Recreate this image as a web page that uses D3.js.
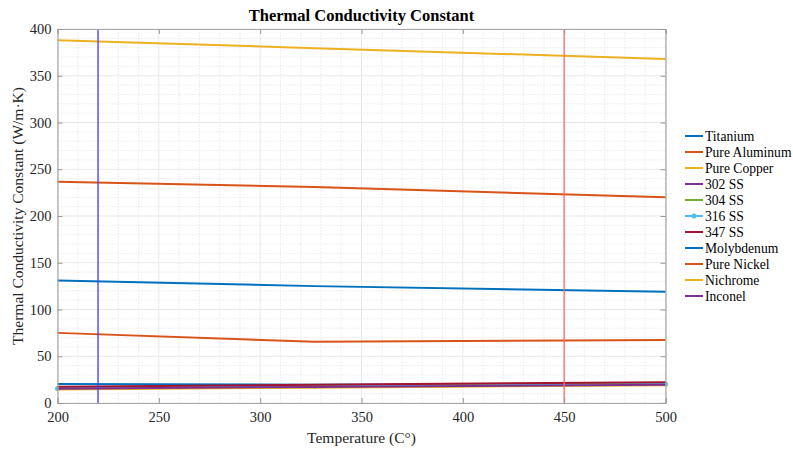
<!DOCTYPE html>
<html><head><meta charset="utf-8">
<script src="https://cdn.jsdelivr.net/npm/d3@7"></script>
<style>body{margin:0;background:#fff}svg{display:block}text{font-family:"Liberation Serif","Times New Roman",serif}</style>
</head><body><svg id="c" width="793" height="449"></svg>
<script>
const temps = [200, 326.85, 500];
const seriesNames = ["Titanium","Pure Aluminum","Pure Copper","302 SS","304 SS","316 SS","347 SS","Molybdenum","Pure Nickel","Nichrome","Inconel"];
const titanium = [20.2, 19.6, 20.6];
const pureAluminum = [236.5, 231, 220];
const pureCopper = [388, 379.5, 368];
const ss302 = [16.2, 18.2, 20.6];
const ss304 = [16.8, 18.7, 21.3];
const ss316 = [15.6, 17.6, 20.2];
const ss347 = [17.3, 19.6, 22.2];
const molybdenum = [131, 125, 119];
const pureNickel = [75, 65.5, 67.5];
const nichrome = [14.4, 16.4, 19];
const inconel = [15.2, 17.2, 19.6];
const seriesValues = [titanium, pureAluminum, pureCopper, ss302, ss304, ss316, ss347, molybdenum, pureNickel, nichrome, inconel];
const xTicks = [200, 250, 300, 350, 400, 450, 500];
const yTicks = [0, 50, 100, 150, 200, 250, 300, 350, 400];
const markers = [220, 450];
const colors = ["#0072BD","#D95319","#EDB120","#7E2F8E","#77AC30","#4DBEEE","#A2142F","#0072BD","#D95319","#EDB120","#7E2F8E"];

const svg = d3.select("#c");
const L = 57.5, R = 665.5, T = 29, B = 403;
const x = d3.scaleLinear().domain([200, 500]).range([L, R]);
const y = d3.scaleLinear().domain([0, 400]).range([B, T]);

// minor grid
const g = svg.append("g");
g.selectAll(".mx").data(d3.range(200, 501, 10).filter(v => v % 50 !== 0)).join("line")
  .attr("x1", d => x(d)).attr("x2", d => x(d)).attr("y1", T).attr("y2", B)
  .attr("stroke", "#e4e4e4").attr("stroke-width", 0.8).attr("stroke-dasharray", "1.5,1.5");
g.selectAll(".my").data(d3.range(0, 401, 10).filter(v => v % 50 !== 0)).join("line")
  .attr("y1", d => y(d)).attr("y2", d => y(d)).attr("x1", L).attr("x2", R)
  .attr("stroke", "#e4e4e4").attr("stroke-width", 0.8).attr("stroke-dasharray", "1.5,1.5");
// major grid
g.selectAll(".Mx").data(xTicks).join("line")
  .attr("x1", d => x(d)).attr("x2", d => x(d)).attr("y1", T).attr("y2", B)
  .attr("stroke", "#e8e8e8").attr("stroke-width", 1);
g.selectAll(".My").data(yTicks).join("line")
  .attr("y1", d => y(d)).attr("y2", d => y(d)).attr("x1", L).attr("x2", R)
  .attr("stroke", "#e8e8e8").attr("stroke-width", 1);

// series
const line = d3.line().x((d, i) => x(temps[i])).y(d => y(d));
seriesValues.forEach((vals, k) => {
  svg.append("path").datum(vals).attr("d", line).attr("fill", "none")
    .attr("stroke", colors[k]).attr("stroke-width", 2);
  if (seriesNames[k] === "316 SS") {
    svg.selectAll(null).data(vals).join("circle")
      .attr("cx", (d, i) => x(temps[i])).attr("cy", d => y(d)).attr("r", 2.5).attr("fill", colors[k]);
  }
});

// vertical marker lines
svg.append("line").attr("x1", x(markers[0])).attr("x2", x(markers[0])).attr("y1", T).attr("y2", B)
  .attr("stroke", "#3b3bff").attr("stroke-width", 1.3);
svg.append("line").attr("x1", x(markers[1])).attr("x2", x(markers[1])).attr("y1", T).attr("y2", B)
  .attr("stroke", "#ff6a6a").attr("stroke-width", 1.3);

// axes
const axCol = "#a6a6a6";
const xb = svg.append("g").attr("transform", `translate(0,${B})`)
  .call(d3.axisBottom(x).tickValues(xTicks).tickSize(-5).tickPadding(9).tickFormat(d3.format("d")));
const xt = svg.append("g").attr("transform", `translate(0,${T})`)
  .call(d3.axisTop(x).tickValues(xTicks).tickSize(-5).tickFormat(""));
const yl = svg.append("g").attr("transform", `translate(${L},0)`)
  .call(d3.axisLeft(y).tickValues(yTicks).tickSize(-5).tickPadding(6).tickFormat(d3.format("d")));
const yr = svg.append("g").attr("transform", `translate(${R},0)`)
  .call(d3.axisRight(y).tickValues(yTicks).tickSize(-5).tickFormat(""));
[xb, xt, yl, yr].forEach(a => {
  a.select(".domain").attr("stroke", axCol).attr("stroke-width", 1.2);
  a.selectAll(".tick line").attr("stroke", "#999");
  a.selectAll("text").attr("fill", "#262626").style("font-size", "14.5px").style("font-family", '"Liberation Serif",serif');
});

// title and labels
svg.append("text").attr("x", (L + R) / 2).attr("y", 21).attr("text-anchor", "middle")
  .style("font-weight", "bold").style("font-size", "16.5px").attr("fill", "#000")
  .text("Thermal Conductivity Constant");
svg.append("text").attr("x", (L + R) / 2).attr("y", 443).attr("text-anchor", "middle")
  .style("font-size", "15.5px").attr("fill", "#262626").text("Temperature (C°)");
svg.append("text").attr("transform", `translate(23,${(T + B) / 2}) rotate(-90)`).attr("text-anchor", "middle")
  .style("font-size", "15.5px").attr("fill", "#262626").text("Thermal Conductivity Constant (W/m·K)");

// legend
const lg = svg.append("g");
seriesNames.forEach((n, k) => {
  const yy = 136 + k * 16;
  lg.append("line").attr("x1", 685).attr("x2", 703).attr("y1", yy).attr("y2", yy)
    .attr("stroke", colors[k]).attr("stroke-width", 2);
  if (n === "316 SS") lg.append("circle").attr("cx", 694).attr("cy", yy).attr("r", 2.5).attr("fill", colors[k]);
  lg.append("text").attr("x", 705).attr("y", yy + 4.5).style("font-size", "13.6px").attr("fill", "#000").text(n);
});
</script></body></html>
